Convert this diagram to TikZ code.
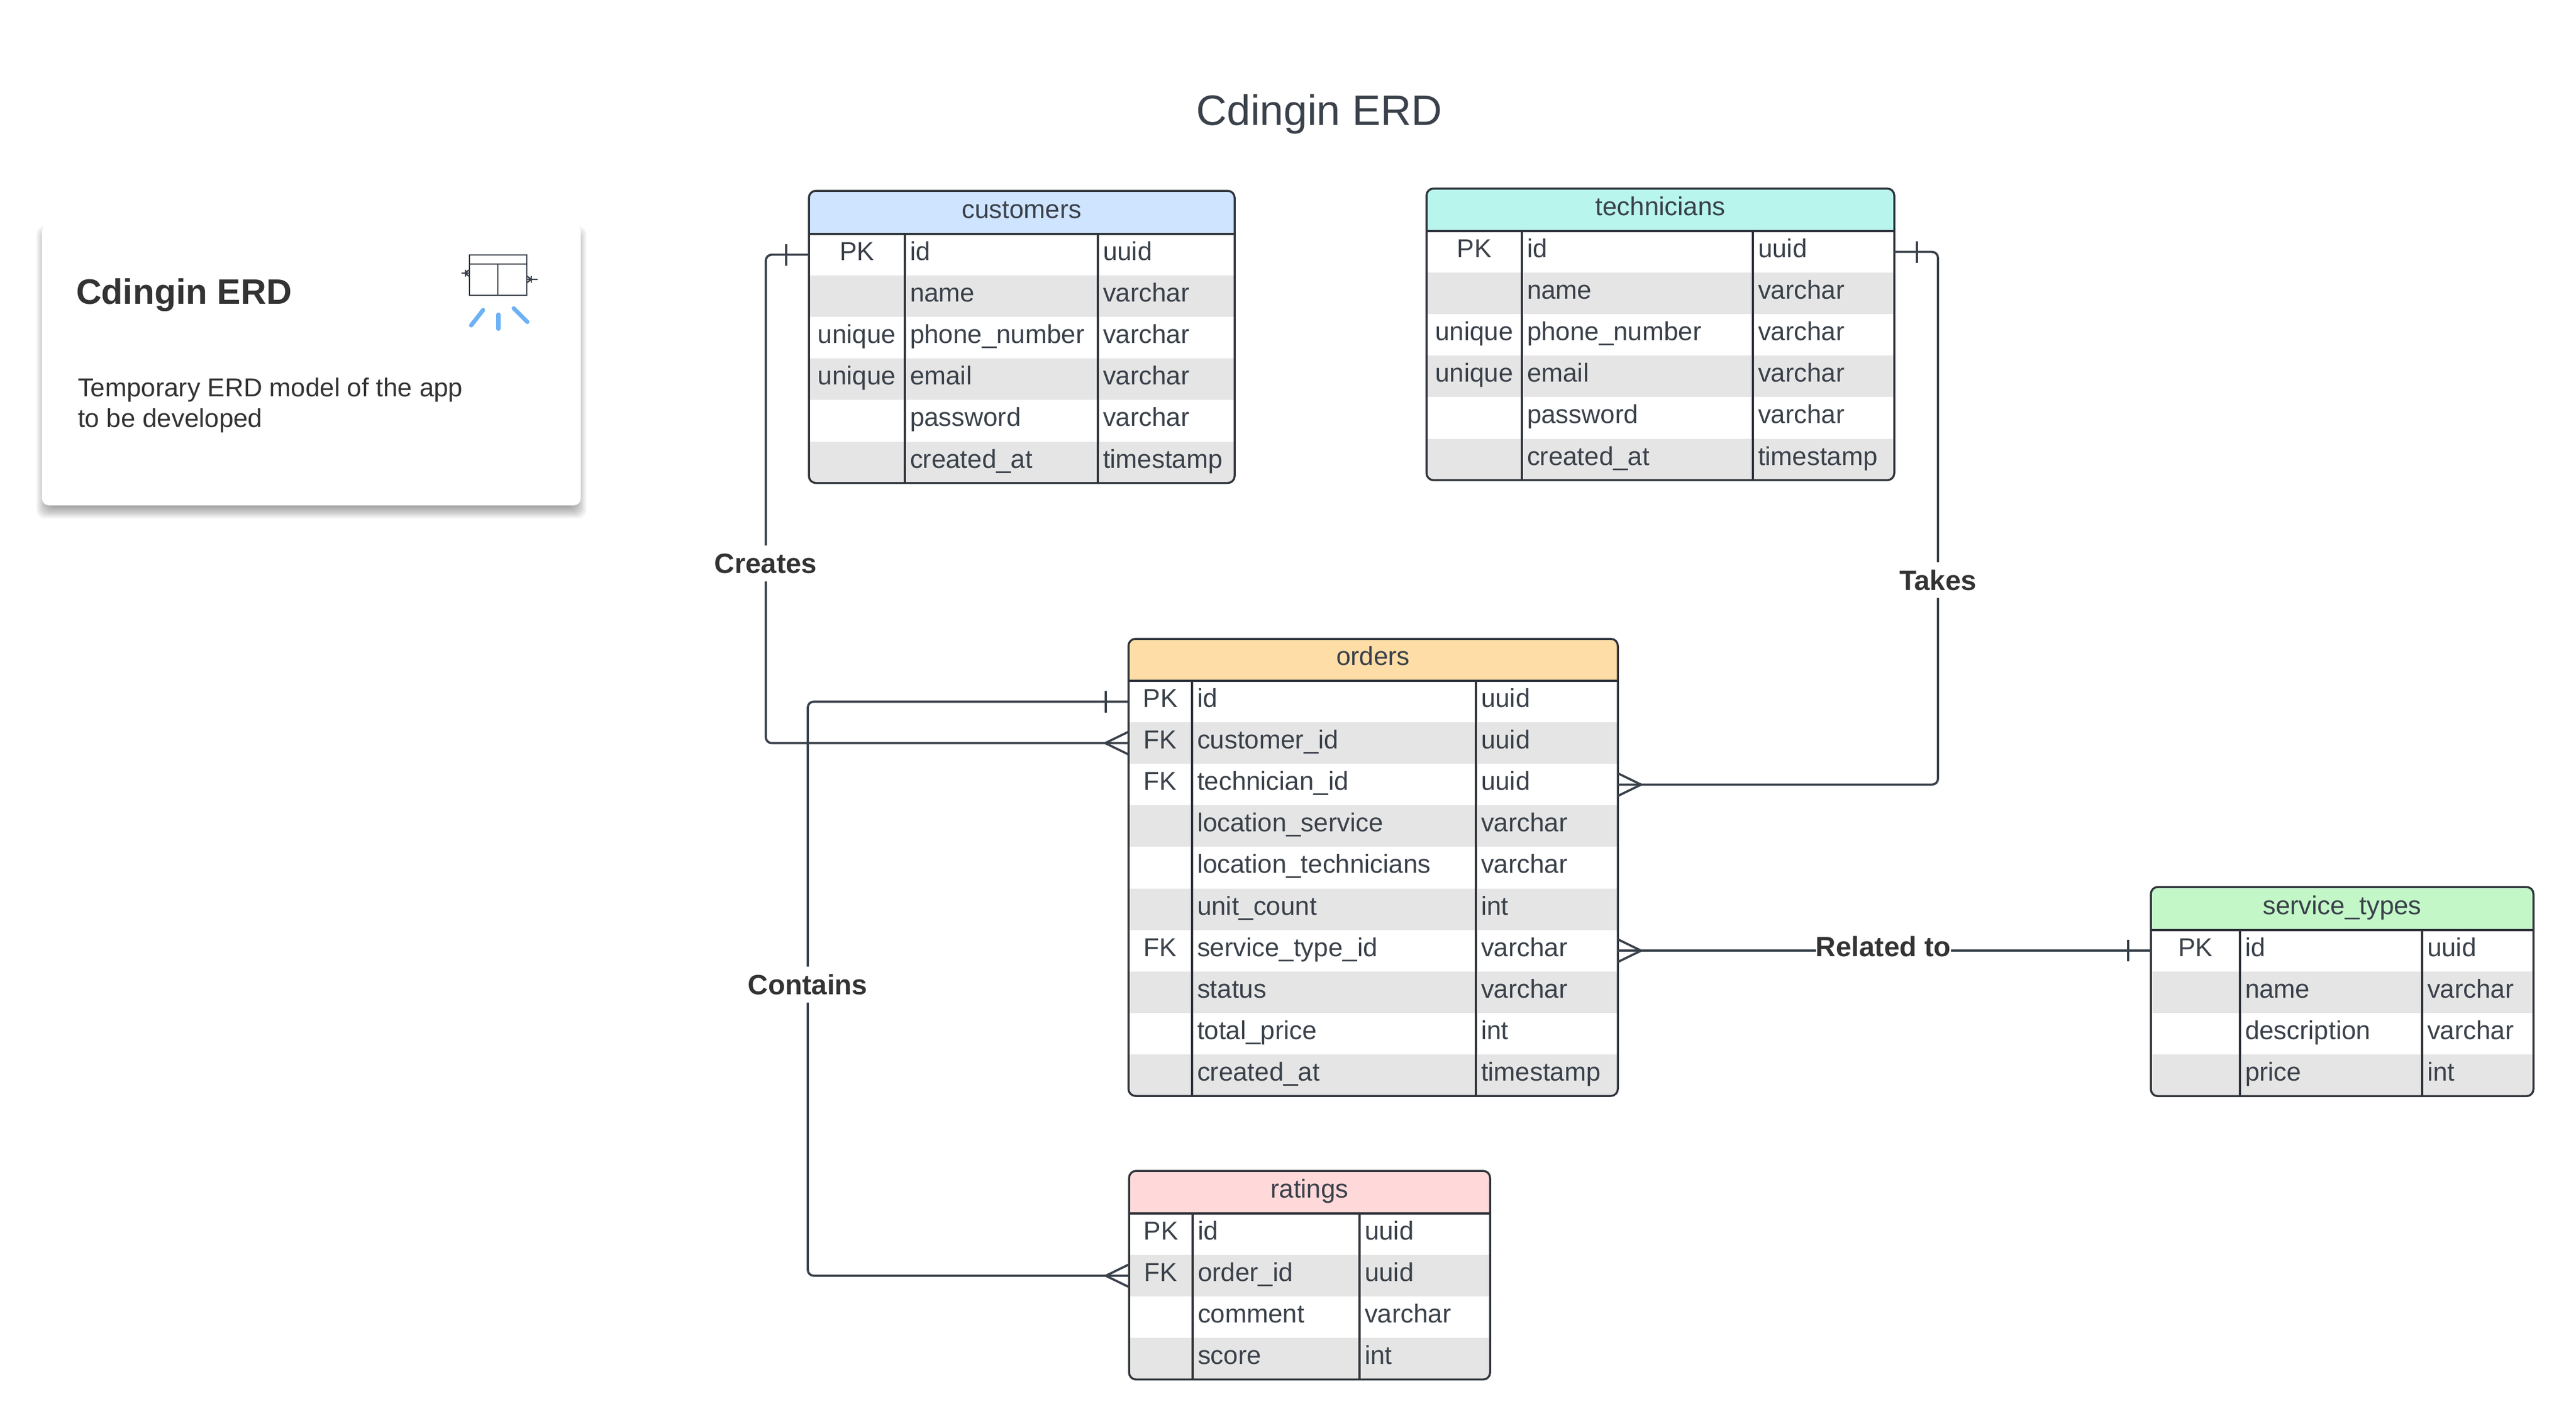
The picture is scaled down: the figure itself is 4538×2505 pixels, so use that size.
\documentclass[tikz,border=0pt]{standalone}
\usepackage{fontspec}
\setmainfont{Liberation Sans}
\usetikzlibrary{calc}
\definecolor{ink}{HTML}{3A414A}
\definecolor{rule}{HTML}{2F343B}
\definecolor{rowgray}{HTML}{E5E5E5}
\definecolor{cardink}{HTML}{333333}
\definecolor{iconblue}{HTML}{6DB1F5}
\definecolor{hcust}{HTML}{CFE4FF}
\definecolor{htech}{HTML}{B8F5ED}
\definecolor{hord}{HTML}{FFDDA6}
\definecolor{hserv}{HTML}{C3F7C8}
\definecolor{hrate}{HTML}{FFD9D9}
\tikzset{
  cell/.style={inner sep=0pt,outer sep=0pt,text=ink,font=\fontsize{13}{15.5}\selectfont},
  rowbox/.style={rectangle,inner sep=0pt,outer sep=0pt,anchor=north west},
  tablerule/.style={draw=rule,line width=1pt},
  conn/.style={draw=ink,line width=1.1pt},
  relname/.style={fill=white,inner xsep=0pt,inner ysep=0pt,minimum height=18pt,text=cardink,font=\fontsize{14}{17}\selectfont\bfseries},
  cardtext/.style={inner sep=0pt,outer sep=0pt,text=cardink,anchor=base west},
}
\def\rowh{73.1}
% #1 name, #2 header colour, #3..#6 column edges, #7 top, #8 header bottom, #9 number of rows
\newcommand\erdtable[9]{
  \pgfmathsetmacro\ybot{#8+#9*\rowh}
  \begin{scope}
    \clip[rounded corners=3.5pt] (#3,#7) rectangle (#6,\ybot);
    \fill[#2] (#3,#7) rectangle (#6,#8);
    \foreach \a/\b/\c [count=\i] in \rowlist {
      \ifodd\i \def\rowfill{white}\else\def\rowfill{rowgray}\fi
      \node[rowbox,fill=\rowfill,minimum width={(#6-#3)*0.01cm},minimum height={\rowh*0.01cm}] (#1-\i) at ({#3},{#8+(\i-1)*\rowh}) {};
    }
  \end{scope}
  \draw[tablerule,rounded corners=3.5pt] (#3,#7) rectangle (#6,\ybot);
  \draw[tablerule] (#3,#8) -- (#6,#8);
  \draw[tablerule] (#4,#8) -- (#4,\ybot);
  \draw[tablerule] (#5,#8) -- (#5,\ybot);
  \node[cell,anchor=base] (#1-title) at ({(#3+#6)/2},{#8-28}) {\tabletitle};
  \foreach \a/\b/\c [count=\i] in \rowlist {
    \node[cell,anchor=base] (#1-\i-key) at ({(#3+#4)/2},{#8+(\i-1)*\rowh+46.5}) {\a};
    \node[cell,anchor=base west] (#1-\i-name) at ({#4+9},{#8+(\i-1)*\rowh+46.5}) {\b};
    \node[cell,anchor=base west] (#1-\i-type) at ({#5+9},{#8+(\i-1)*\rowh+46.5}) {\c};
  }
}
% crow's foot at point #1, #2 = side (-1 left, +1 right)
\newcommand\crowfoot[2]{
  \draw[conn] ($(#1)+({#2*41},0)$) -- ($(#1)+(0,-20)$);
  \draw[conn] ($(#1)+({#2*41},0)$) -- ($(#1)+(0,20)$);
}
\newcommand\onebar[2]{
  \draw[conn] ($(#1)+({#2*40},-19)$) -- ($(#1)+({#2*40},19)$);
}
\begin{document}
\begin{tikzpicture}[x=0.01cm,y=-0.01cm]
\useasboundingbox (0,0) rectangle (4538,2505);
\fill[white] (0,0) rectangle (4538,2505);

\node[anchor=center,inner sep=0pt,text=ink,font=\fontsize{21.3}{26}\selectfont] (maintitle) at (2324,201) {Cdingin ERD};

% card
\foreach \e in {-10,-8,...,10} {
  \fill[black,opacity=0.035,rounded corners=4pt] ({74-\e},{395+13-\e}) rectangle ({1023+\e},{890+13+\e});
}
\fill[white,rounded corners=3.5pt] (74,395) rectangle (1023,890);
\node[cardtext,font=\fontsize{17.7}{22}\selectfont\bfseries] (cardtitle) at (134,535) {Cdingin ERD};
\node[cardtext,font=\fontsize{13}{15.5}\selectfont] (cardline1) at (137,698) {Temporary ERD model of the app};
\node[cardtext,font=\fontsize{13}{15.5}\selectfont] (cardline2) at (137,752) {to be developed};
% icon
\draw[ink,line width=0.8pt] (827,449) rectangle (928,520);
\draw[ink,line width=0.8pt] (827,465) -- (928,465);
\draw[ink,line width=0.8pt] (877,465) -- (877,520);
\draw[ink,line width=0.7pt] (813,481) -- (827,481) (819,481) -- (827,475) (819,481) -- (827,487) (820,475) -- (820,487);
\draw[ink,line width=0.7pt] (928,492) -- (947,492) (936,492) -- (928,486) (936,492) -- (928,498) (936,486) -- (936,498);
\draw[iconblue,line width=2.1pt,line cap=round] (851,546) -- (830,573);
\draw[iconblue,line width=2.1pt,line cap=round] (878,554) -- (878,579);
\draw[iconblue,line width=2.1pt,line cap=round] (905,543) -- (929,567);

% tables
\def\tabletitle{customers}
\def\rowlist{PK/id/uuid,/name/varchar,unique/phone\_number/varchar,unique/email/varchar,/password/varchar,/created\_at/timestamp}
\erdtable{customers}{hcust}{1425}{1594}{1934}{2175}{336}{412}{6}

\def\tabletitle{technicians}
\erdtable{technicians}{htech}{2513}{2681}{3088}{3337}{332}{407}{6}

\def\tabletitle{orders}
\def\rowlist{PK/id/uuid,FK/customer\_id/uuid,FK/technician\_id/uuid,/location\_service/varchar,/location\_technicians/varchar,/unit\_count/int,FK/service\_type\_id/varchar,/status/varchar,/total\_price/int,/created\_at/timestamp}
\erdtable{orders}{hord}{1988}{2100}{2600}{2850}{1125}{1199}{10}

\def\tabletitle{service\_types}
\def\rowlist{PK/id/uuid,/name/varchar,/description/varchar,/price/int}
\erdtable{servicetypes}{hserv}{3789}{3946}{4267}{4463}{1562}{1638}{4}

\def\tabletitle{ratings}
\def\rowlist{PK/id/uuid,FK/order\_id/uuid,/comment/varchar,/score/int}
\erdtable{ratings}{hrate}{1989}{2101}{2395}{2625}{2062}{2137}{4}

% connectors
\coordinate (createsbend) at (1349,0);
\draw[conn,rounded corners=3pt] (customers-1.west) -- (customers-1.west -| createsbend)
  -- node[relname,pos=0.632] (creates) {Creates} (orders-2.west -| createsbend) -- (orders-2.west);
\onebar{customers-1.west}{-1}
\crowfoot{orders-2.west}{-1}

\coordinate (takesbend) at (3414,0);
\draw[conn,rounded corners=3pt] (technicians-1.east) -- (technicians-1.east -| takesbend)
  -- node[relname,pos=0.616] (takes) {Takes} (orders-3.east -| takesbend) -- (orders-3.east);
\onebar{technicians-1.east}{1}
\crowfoot{orders-3.east}{1}

\draw[conn] (orders-7.east) -- node[relname,pos=0.498,yshift=2pt] (relatedto) {Related to} (orders-7.east -| servicetypes-1.west);
\crowfoot{orders-7.east}{1}
\onebar{orders-7.east -| servicetypes-1.west}{-1}

\coordinate (containsbend) at (1423,0);
\draw[conn,rounded corners=3pt] (orders-1.west) -- (orders-1.west -| containsbend)
  -- node[relname,pos=0.493] (contains) {Contains} (ratings-2.west -| containsbend) -- (ratings-2.west);
\onebar{orders-1.west}{-1}
\crowfoot{ratings-2.west}{-1}
\end{tikzpicture}
\end{document}
